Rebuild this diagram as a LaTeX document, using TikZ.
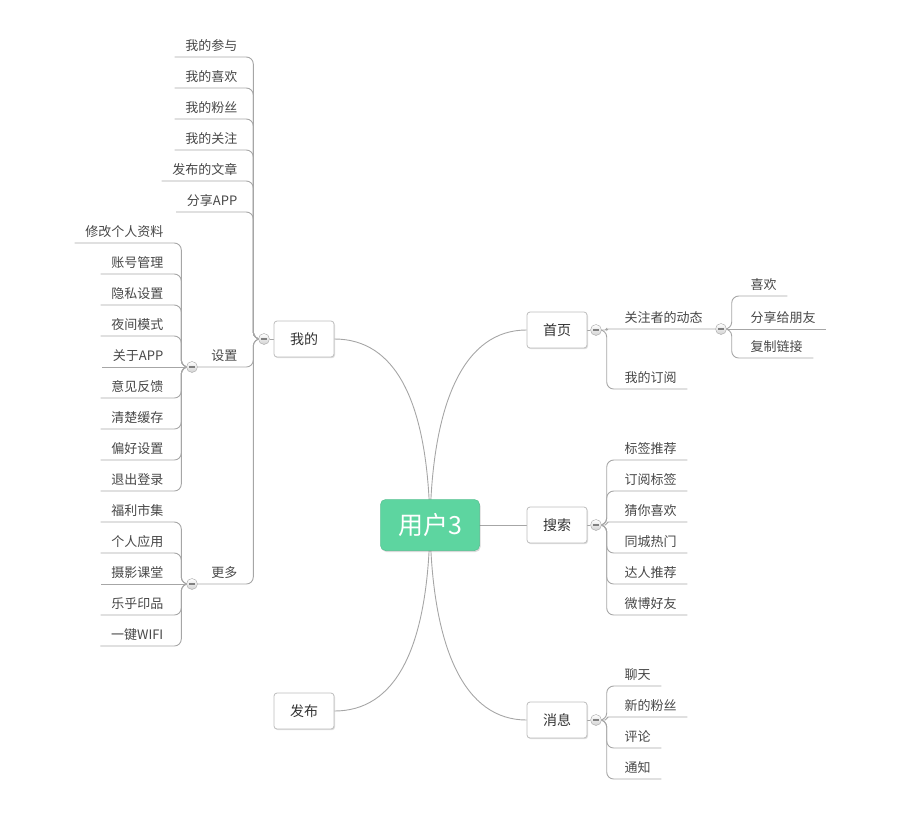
\documentclass[tikz,border=0pt]{standalone}
\usepackage{fontspec}
\setmainfont{Noto Sans CJK SC}
\usetikzlibrary{shadows,backgrounds}
\definecolor{txt}{HTML}{474747}
\definecolor{lin}{HTML}{A6A6A6}
\definecolor{rootgreen}{HTML}{5DD5A0}
\definecolor{boxline}{HTML}{BDBDBD}
\tikzset{
  leafL/.style={font=\fontsize{13}{15}\selectfont, text=txt, inner xsep=10.5pt, inner ysep=4pt, text height=9.5pt, text depth=2.5pt, anchor=south east},
  leafR/.style={leafL, anchor=south west},
  conn/.style={draw=lin, line width=0.9pt, rounded corners=7pt},
  connsmall/.style={draw=lin, line width=0.9pt, rounded corners=1.4pt},
  rootconn/.style={draw=lin, line width=0.9pt},
  tog/.style={circle, minimum size=11pt, inner sep=0pt, draw=lin, top color=white, bottom color=black!18,
    path picture={\draw[line width=1.3pt, black!50] ([xshift=-2.6pt]path picture bounding box.center) -- ([xshift=2.6pt]path picture bounding box.center);}},
  mainbox/.style={rectangle, rounded corners=3pt, draw=boxline, line width=0.8pt, fill=white, minimum width=60pt, minimum height=36pt, text=black!80, font=\fontsize{14}{16}\selectfont, drop shadow={shadow xshift=1pt, shadow yshift=-1.2pt, opacity=0.25}},
  rootbox/.style={rectangle, rounded corners=5pt, fill=rootgreen, draw=rootgreen!90!black, line width=0.5pt, minimum width=99pt, minimum height=51pt, text=white, font=\fontsize{25}{29}\selectfont, drop shadow={shadow xshift=1pt, shadow yshift=-1.5pt, opacity=0.3}}
}
\begin{document}
\begin{tikzpicture}[x=1pt,y=-1pt]
\useasboundingbox (0,0) rectangle (900,812);

% main nodes
\node[rootbox] (root) at (430,525) {用户3};
\node[mainbox] (wode) at (304,339) {我的};
\node[mainbox] (fabu) at (304,711) {发布};
\node[mainbox] (shouye) at (557,330) {首页};
\node[mainbox] (sousuo) at (557,525) {搜索};
\node[mainbox] (xiaoxi) at (557,720) {消息};

% toggles
\node[tog] (tW) at (264,339) {};
\node[tog] (tSet) at (192,367) {};
\node[tog] (tMore) at (192,584) {};
\node[tog] (tHome) at (596,330) {};
\node[tog] (tFollow) at (721,329) {};
\node[tog] (tSearch) at (596,525) {};
\node[tog] (tMsg) at (596,720) {};

% children of 我的
\node[leafL] (w1) at (248,57) {我的参与};
\node[leafL] (w2) at (248,88) {我的喜欢};
\node[leafL] (w3) at (248,119) {我的粉丝};
\node[leafL] (w4) at (248,150) {我的关注};
\node[leafL] (w5) at (248,181) {发布的文章};
\node[leafL] (w6) at (248,212) {分享APP};
\node[leafL] (set) at (248,367) {设置};
\node[leafL] (more) at (248,584) {更多};

% settings
\node[leafL] (s1) at (174,243) {修改个人资料};
\node[leafL] (s2) at (174,274) {账号管理};
\node[leafL] (s3) at (174,305) {隐私设置};
\node[leafL] (s4) at (174,336) {夜间模式};
\node[leafL] (s5) at (174,367) {关于APP};
\node[leafL] (s6) at (174,398) {意见反馈};
\node[leafL] (s7) at (174,429) {清楚缓存};
\node[leafL] (s8) at (174,460) {偏好设置};
\node[leafL] (s9) at (174,491) {退出登录};

% more
\node[leafL] (m1) at (174,522) {福利市集};
\node[leafL] (m2) at (174,553) {个人应用};
\node[leafL] (m3) at (174,584) {摄影课堂};
\node[leafL] (m4) at (174,615) {乐乎印品};
\node[leafL] (m5) at (174,646) {一键WIFI};

% home
\node[leafR] (h1) at (614,329) {关注者的动态};
\node[leafR] (h2) at (614,389) {我的订阅};
\node[leafR] (f1) at (740,296) {喜欢};
\node[leafR] (f2) at (740,329) {分享给朋友};
\node[leafR] (f3) at (740,358) {复制链接};

% search
\node[leafR] (q1) at (614,460) {标签推荐};
\node[leafR] (q2) at (614,491) {订阅标签};
\node[leafR] (q3) at (614,522) {猜你喜欢};
\node[leafR] (q4) at (614,553) {同城热门};
\node[leafR] (q5) at (614,584) {达人推荐};
\node[leafR] (q6) at (614,615) {微博好友};

% messages
\node[leafR] (x1) at (614,686) {聊天};
\node[leafR] (x2) at (614,717) {新的粉丝};
\node[leafR] (x3) at (614,748) {评论};
\node[leafR] (x4) at (614,779) {通知};

\begin{scope}[on background layer]
  % root connectors
  \draw[rootconn] (root.center) .. controls (428,400) and (395,339) .. (wode.east);
  \draw[rootconn] (root.center) .. controls (428,650) and (395,711) .. (fabu.east);
  \draw[rootconn] (root.center) .. controls (432,400) and (465,330) .. (shouye.west);
  \draw[rootconn] (root.center) .. controls (432,650) and (465,720) .. (xiaoxi.west);
  \draw[rootconn] (root.center) -- (sousuo.west);

  % box to toggles
  \draw[rootconn] (wode.west) -- (tW.east);
  \draw[rootconn] (shouye.east) -- (tHome.west);
  \draw[rootconn] (sousuo.east) -- (tSearch.west);
  \draw[rootconn] (xiaoxi.east) -- (tMsg.west);

  % 我的 branch
  \foreach \c in {w1,w2,w3,w4,w5,w6}
    \draw[conn] (tW.west) -- ++(-5,0) |- (\c.south west);
  \draw[conn] (tW.west) -- ++(-5,0) |- (tSet.east);
  \draw[conn] (tW.west) -- ++(-5,0) |- (tMore.east);

  \foreach \c in {s1,s2,s3,s4,s6,s7,s8,s9}
    \draw[conn] (tSet.west) -- ++(-5,0) |- (\c.south west);
  \draw[rootconn] (tSet.west) -- (s5.south west);
  \foreach \c in {m1,m2,m4,m5}
    \draw[conn] (tMore.west) -- ++(-5,0) |- (\c.south west);
  \draw[rootconn] (tMore.west) -- (m3.south west);

  % home branch
  \draw[connsmall] (tHome.east) -- ++(5,0) |- (tFollow.west);
  \draw[conn] (tHome.east) -- ++(5,0) |- (h2.south east);
  \draw[conn] (tFollow.east) -- ++(5,0) |- (f1.south east);
  \draw[rootconn] (tFollow.east) -- (f2.south east);
  \draw[conn] (tFollow.east) -- ++(5,0) |- (f3.south east);

  \foreach \c in {q1,q2,q4,q5,q6}
    \draw[conn] (tSearch.east) -- ++(5,0) |- (\c.south east);
  \draw[connsmall] (tSearch.east) -- ++(5,0) |- (q3.south east);
  \foreach \c in {x1,x3,x4}
    \draw[conn] (tMsg.east) -- ++(5,0) |- (\c.south east);
  \draw[connsmall] (tMsg.east) -- ++(5,0) |- (x2.south east);
\end{scope}
\end{tikzpicture}
\end{document}
